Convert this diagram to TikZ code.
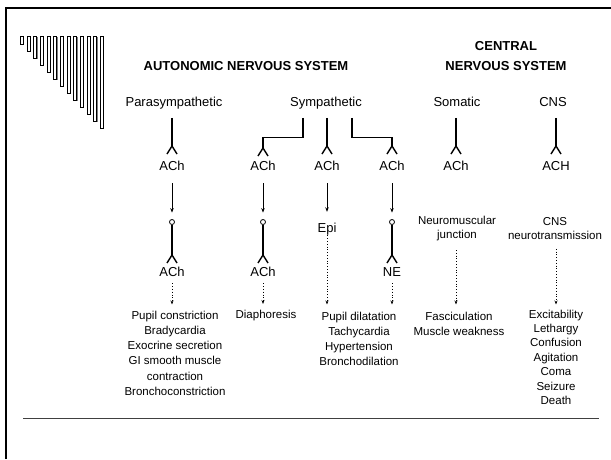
\documentclass[tikz,border=0pt]{standalone}
\usepackage{fontspec}
\setmainfont{Liberation Sans}
\usetikzlibrary{arrows.meta}

\begin{document}
\begin{tikzpicture}[x=1pt, y=-1pt,
  lbl/.style={font=\fontsize{13}{15}\selectfont, inner sep=0pt, text height=9.5pt, text depth=2.7pt},
  title/.style={font=\fontsize{13}{20}\selectfont\bfseries, align=center, inner sep=0pt},
  res/.style={font=\fontsize{11.5}{15.3}\selectfont, align=center, inner sep=0pt, anchor=north},
  stem/.style={line width=1.4pt},
  arr/.style={line width=0.8pt, -{Stealth[length=4.5pt,width=3.5pt]}},
  dotarr/.style={line width=0.8pt, dotted, -{Stealth[length=4pt,width=3pt]}},
  syn/.style={circle, draw, line width=0.8pt, fill=white, minimum size=5pt, inner sep=0pt}]

  % Canvas, keeps the slide's margins
  \useasboundingbox (0,0) rectangle (611,459);

  % Slide frame (top and left edge)
  \draw[line width=2pt] (6,459) -- (6,8.3) -- (611,8.3);

  % Bar ornament, top left
  \foreach \i in {0,...,12} {
    \fill[gray] (21.3+6.67*\i,37) rectangle ++(3,8+7*\i);
    \draw[line width=0.6pt, fill=white] (20.3+6.67*\i,36) rectangle ++(3,8+7*\i);
  }

  % Titles
  \node[title] (ans) at (246,66) {AUTONOMIC NERVOUS SYSTEM};
  \node[title] (cns) at (506,56) {CENTRAL\\NERVOUS SYSTEM};

  % Branch labels
  \node[lbl] (para) at (174,103) {Parasympathetic};
  \node[lbl] (symp) at (326,103) {Sympathetic};
  \node[lbl] (soma) at (457,103) {Somatic};
  \node[lbl] (cnsl) at (553,103) {CNS};

  % Receptor points and bracket corners
  \coordinate (fP) at (172,146);
  \coordinate (fD) at (263,148);
  \coordinate (fE) at (327,146);
  \coordinate (fN) at (392,146);
  \coordinate (fS) at (456,146);
  \coordinate (fC) at (556,146);
  \coordinate (kL) at (303,137.5);
  \coordinate (kR) at (352,137.5);

  % Preganglionic stems
  \draw[stem, shorten <=8.5pt] (para.south -| fP) -- (fP);
  \draw[stem, shorten <=8.5pt] (symp.south -| kL) -- (kL) -| (fD);
  \draw[stem, shorten <=8.5pt] (symp.south -| fE) -- (fE);
  \draw[stem, shorten <=8.5pt] (symp.south -| kR) -- (kR) -| (fN);
  \draw[stem, shorten <=8.5pt] (soma.south -| fS) -- (fS);
  \draw[stem, shorten <=8.5pt] (cnsl.south -| fC) -- (fC);

  % First transmitter row
  \node[lbl] (aP1) at (172,167) {ACh};
  \node[lbl] (aD1) at (263,167) {ACh};
  \node[lbl] (aE1) at (327,167) {ACh};
  \node[lbl] (aN1) at (392,167) {ACh};
  \node[lbl] (aS1) at (456,167) {ACh};
  \node[lbl] (aC1) at (556,167) {ACH};

  % Ganglia and adrenal medulla
  \node[syn] (gP) at (172,222) {};
  \node[syn] (gD) at (263,222) {};
  \node[syn] (gN) at (392,222) {};
  \node[lbl] (epi) at (327,228.6) {Epi};

  % Solid arrows
  \foreach \a/\b in {aP1/gP, aD1/gD, aN1/gN}
    \draw[arr, shorten <=10pt, shorten >=6.5pt] (\a) -- (\b);
  \draw[arr, shorten <=10pt, shorten >=10.5pt] (aE1) -- (epi);

  % Postganglionic stems
  \coordinate (fP2) at (172,255);
  \coordinate (fD2) at (263,255);
  \coordinate (fN2) at (392,255);
  \foreach \g/\f in {gP/fP2, gD/fD2, gN/fN2}
    \draw[stem] (\g) -- (\f);

  % Receptor forks
  \foreach \f in {fP,fD,fE,fN,fS,fC,fP2,fD2,fN2}
    \draw[stem] ([shift={(-5,8)}]\f) -- (\f) -- ([shift={(5,8)}]\f);

  % Second transmitter row
  \node[lbl] (aP2) at (172,273) {ACh};
  \node[lbl] (aD2) at (263,273) {ACh};
  \node[lbl] (ne) at (392,273) {NE};

  % Junction labels
  \node[res, anchor=center, font=\fontsize{11.5}{14}\selectfont] (nmj) at (457,229) {Neuromuscular\\junction};
  \node[res, anchor=center, font=\fontsize{11.5}{14}\selectfont] (cnt) at (555,229) {CNS\\neurotransmission};

  % Effects
  \node[res] (rP) at (175,310.5) {Pupil constriction\\Bradycardia\\Exocrine secretion\\GI smooth muscle\\contraction\\Bronchoconstriction};
  \node[res] (rD) at (266,310) {Diaphoresis};
  \node[res] (rE) at (359,311.5) {Pupil dilatation\\Tachycardia\\Hypertension\\Bronchodilation};
  \node[res] (rS) at (459,311.5) {Fasciculation\\Muscle weakness};
  \node[res, font=\fontsize{11.5}{14.4}\selectfont] (rC) at (556,309.5) {Excitability\\Lethargy\\Confusion\\Agitation\\Coma\\Seizure\\Death};

  % Dotted arrows to effects
  \draw[dotarr, shorten <=4pt, shorten >=6pt] (aP2) -- (aP2 |- rP.north);
  \draw[dotarr, shorten <=4pt, shorten >=6pt] (aD2) -- (aD2 |- rD.north);
  \draw[dotarr, shorten <=0.5pt, shorten >=7pt] (epi) -- (epi |- rE.north);
  \draw[dotarr, shorten <=4pt, shorten >=7pt] (ne) -- (ne |- rE.north);
  \draw[dotarr, shorten <=8.5pt, shorten >=7pt] (nmj.south -| fS) -- (fS |- rS.north);
  \draw[dotarr, shorten <=8.5pt, shorten >=5pt] (cnt.south -| fC) -- (fC |- rC.north);

  % Rule under the slide body
  \draw[line width=1.3pt, black!75] (23,418.5) -- (599,418.5);

\end{tikzpicture}
\end{document}
